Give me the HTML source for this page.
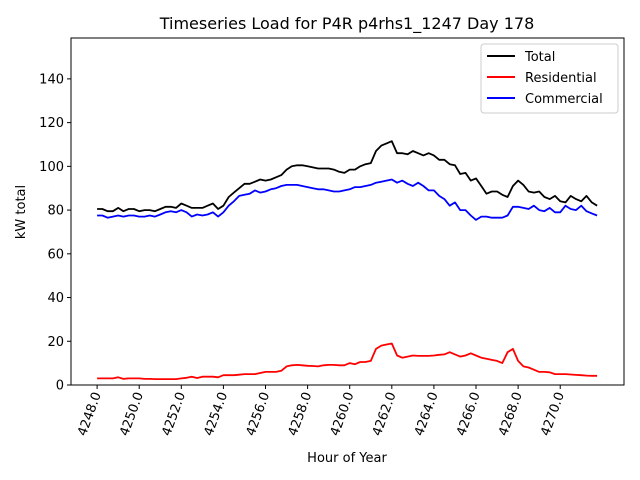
<!DOCTYPE html>
<html><head><meta charset="utf-8"><style>
body{margin:0;background:#fff}
svg{display:block;font-family:"DejaVu Sans","Liberation Sans",sans-serif}
</style></head><body>
<svg id="chart" width="640" height="480">
<rect x="0" y="0" width="640" height="480" fill="#fff"/>
<text x="347" y="29" font-size="16" text-anchor="middle">Timeseries Load for P4R p4rhs1_1247  Day 178</text>
<g id="ticks"></g>
<g id="series"></g>
<rect x="71" y="38" width="553" height="347" fill="none" stroke="#000" stroke-width="1"/>
<text transform="translate(25,212) rotate(-90)" font-size="13" text-anchor="middle">kW total</text>
<text x="347" y="462" font-size="13" text-anchor="middle">Hour of Year</text>
<g>
<rect x="481" y="44" width="137" height="69" rx="3" fill="#fff" stroke="#ccc"/>
<line x1="487" y1="56" x2="515" y2="56" stroke="#000" stroke-width="2"/>
<text x="525" y="61" font-size="13">Total</text>
<line x1="487" y1="77" x2="515" y2="77" stroke="red" stroke-width="2"/>
<text x="525" y="82" font-size="13">Residential</text>
<line x1="487" y1="98" x2="515" y2="98" stroke="blue" stroke-width="2"/>
<text x="525" y="103" font-size="13">Commercial</text>
</g>
</svg>
<script>
const startHour = 4248;
const stepHours = 0.25;
const yTicks = [0,20,40,60,80,100,120,140];
const xTicks = [4248,4250,4252,4254,4256,4258,4260,4262,4264,4266,4268,4270];
const totalValues = [80.5,80.5,79.5,79.5,81,79.5,80.5,80.5,79.5,80,80,79.5,80.5,81.5,81.5,81,83,82,81,81,81,82,83,80.5,82,86,88,90,92,92,93,94,93.5,94,95,96,98.5,100,100.5,100.5,100,99.5,99,99,99,98.5,97.5,97,98.5,98.5,100,101,101.5,107,109.5,110.5,111.5,106,106,105.5,107,106,105,106,105,103,103,101,100.5,96.5,97,93.5,94.5,91,87.5,88.5,88.5,87,86,91,93.5,91.5,88.5,88,88.5,86,85,86.5,84,83.5,86.5,85,84,86.5,83.5,82];
const residentialValues = [3,3,3,3,3.5,2.8,3,3,3,2.8,2.8,2.7,2.7,2.7,2.7,2.7,3,3.3,3.8,3.2,3.8,3.8,3.8,3.5,4.5,4.5,4.5,4.7,5,5,5,5.5,6,6,6,6.5,8.5,9,9.2,9,8.8,8.7,8.5,9,9.2,9.2,9,9,10,9.5,10.5,10.5,11,16.5,18,18.5,19,13.5,12.5,13,13.5,13.3,13.3,13.3,13.5,13.8,14,15,14,13,13.5,14.5,13.5,12.5,12,11.5,11,10,15,16.5,11,8.5,8,7,6,6,5.8,5,5,5,4.8,4.6,4.5,4.3,4.2,4.2];
const commercialValues = [77.5,77.5,76.5,77,77.5,77,77.5,77.5,77,77,77.5,77,78,79,79.5,79,80,79,77,78,77.5,78,79,77,79,82,84,86.5,87,87.5,89,88,88.5,89.5,90,91,91.5,91.5,91.5,91,90.5,90,89.5,89.5,89,88.5,88.5,89,89.5,90.5,90.5,91,91.5,92.5,93,93.5,94,92.5,93.5,92,91,92.5,91,89,89,86.5,85,82,83.5,80,80,77.5,75.5,77,77,76.5,76.5,76.5,77.5,81.5,81.5,81,80.5,82,80,79.5,81,79,79,82,80.5,80,82,79.5,78.5,77.5];

const NS='http://www.w3.org/2000/svg';
const X0=71,X1=624,XMIN=4246.76,XMAX=4273.03;
const Y0=385,Y1=38,YMIN=0,YMAX=158.7;
const xs=v=>X0+(v-XMIN)/(XMAX-XMIN)*(X1-X0);
const ys=v=>Y0-(v-YMIN)/(YMAX-YMIN)*(Y0-Y1);
function mk(tag,attrs,parent){const e=document.createElementNS(NS,tag);for(const k in attrs)e.setAttribute(k,attrs[k]);parent.appendChild(e);return e;}
const tg=document.getElementById('ticks');
yTicks.forEach(v=>{
  const y=ys(v);
  const l=mk('line',{x1:X0-4,y1:y,x2:X0,y2:y,stroke:'#000'},tg);
  
  
  const t=mk('text',{x:X0-7,y:y+4.5,'font-size':13,'text-anchor':'end'},tg);
  t.textContent=v;
  
  
});
xTicks.forEach(v=>{
  const x=xs(v);
  const l=mk('line',{x1:x,y1:Y0,x2:x,y2:Y0+4,stroke:'#000'},tg);
  
  
  const t=mk('text',{transform:`translate(${x+4},${Y0+9}) rotate(-70)`,'font-size':13,'text-anchor':'end'},tg);
  t.textContent=v.toFixed(1);
  
  
});
const sg=document.getElementById('series');
function line(vals,color,name){
  const pts=vals.map((v,i)=>xs(startHour+i*stepHours).toFixed(1)+','+ys(v).toFixed(1)).join(' ');
  const p=mk('polyline',{points:pts,fill:'none',stroke:color,'stroke-width':1.8,'stroke-linejoin':'round'},sg);
  
  
}
line(totalValues,'#000','total-line');
line(residentialValues,'red','residential-line');
line(commercialValues,'blue','commercial-line');
</script>
</body></html>
